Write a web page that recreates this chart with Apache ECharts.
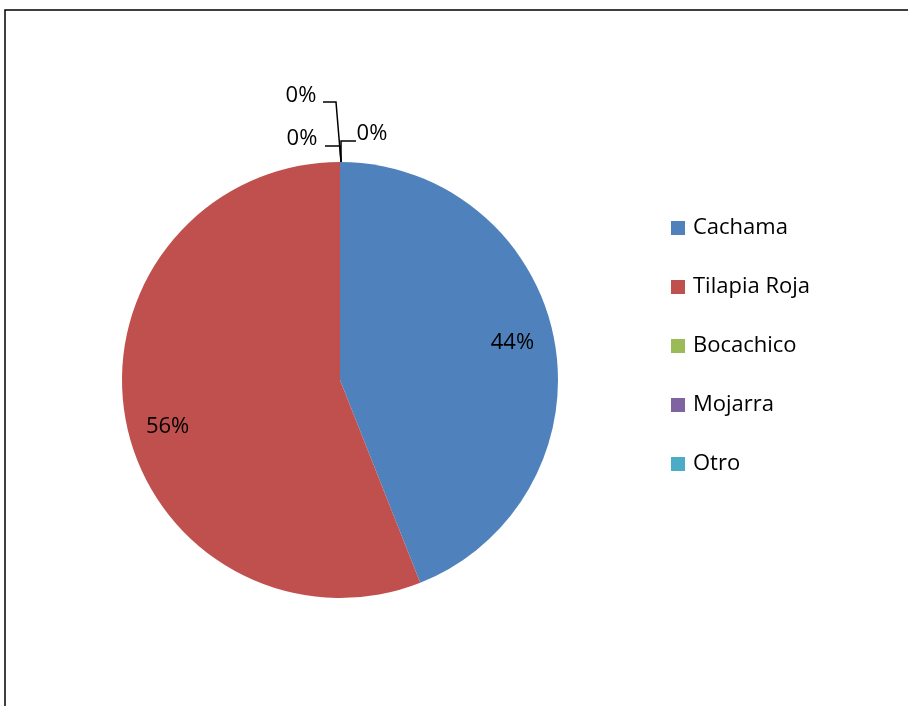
<!DOCTYPE html>
<html>
<head>
<meta charset="utf-8">
<script src="https://cdn.jsdelivr.net/npm/echarts@6/dist/echarts.min.js"></script>
<style>
  html, body { margin: 0; padding: 0; background: #fff; }
  #chart { width: 908px; height: 706px; }
</style>
</head>
<body>
<div id="chart"></div>
<script>
// Species share (percent)
const categories = ['Cachama', 'Tilapia Roja', 'Bocachico', 'Mojarra', 'Otro'];
const values = [44, 56, 0, 0, 0];
const colors = ['#4F81BD', '#C0504D', '#9BBB59', '#8064A2', '#4BACC6'];

const FONT = '"Open Sans", "Noto Sans", sans-serif';
const CX = 340, CY = 380, R = 218;

// Small offsets for the in-slice percentage labels
const insideNudge = [[-1, -4], [1, 14]];

// Callout placements for empty slices, relative to the top of the pie
const zeroCallouts = [
  { text: [-39, -66], line: [[-17, -60], [-4, -60], [1, 0]] },
  { text: [-38, -23], line: [[-15, -16], [0, -16], [1, 0]] },
  { text: [32, -28], line: [[16, -21], [1, -21], [1, 0]] }
];

const total = values.reduce((a, b) => a + b, 0);

const chart = echarts.init(document.getElementById('chart'), null, { renderer: 'canvas' });

const pieData = categories.map((name, i) => {
  const item = { name, value: values[i], itemStyle: { color: colors[i] } };
  if (values[i] === 0) {
    item.label = { position: 'outside' };
    item.labelLine = { show: true };
  }
  return item;
});

function placeLabel(params) {
  const i = params.dataIndex;
  if (values[i] > 0) {
    let before = 0;
    let nz = 0;
    for (let k = 0; k < i; k++) { before += values[k]; if (values[k] > 0) nz++; }
    const mid = (before + values[i] / 2) / total * Math.PI * 2;
    const k = 0.81;
    const n = insideNudge[nz] || [0, 0];
    return {
      x: CX + k * R * Math.sin(mid) + n[0],
      y: CY - k * R * Math.cos(mid) + n[1],
      align: 'center',
      verticalAlign: 'middle'
    };
  }
  let zi = 0;
  for (let k = 0; k < i; k++) if (values[k] === 0) zi++;
  const c = zeroCallouts[zi];
  const topX = CX, topY = CY - R;
  return {
    x: topX + c.text[0],
    y: topY + c.text[1],
    align: 'center',
    verticalAlign: 'middle',
    labelLinePoints: c.line.map(p => [topX + p[0], topY + p[1]])
  };
}

chart.setOption({
  animation: false,
  backgroundColor: '#ffffff',
  graphic: [{
    type: 'rect',
    shape: { x: 5, y: 10, width: 1000, height: 1000 },
    style: { fill: 'none', stroke: '#000', lineWidth: 1.5 },
    silent: true,
    z: 10
  }],
  legend: {
    orient: 'vertical',
    left: 671,
    top: 217,
    padding: 0,
    itemWidth: 14,
    itemHeight: 14,
    itemGap: 37,
    icon: 'rect',
    data: categories,
    textStyle: {
      fontFamily: FONT,
      fontSize: 22,
      color: '#000',
      lineHeight: 22,
      padding: [0, 0, 0, 3]
    }
  },
  series: [{
    type: 'pie',
    center: [CX, CY],
    radius: R,
    startAngle: 90,
    clockwise: true,
    percentPrecision: 0,
    avoidLabelOverlap: false,
    minShowLabelAngle: 0,
    label: {
      show: true,
      position: 'inside',
      formatter: '{d}%',
      fontFamily: FONT,
      fontSize: 22,
      color: '#000'
    },
    labelLine: {
      show: false,
      lineStyle: { color: '#000', width: 1.5 }
    },
    labelLayout: placeLabel,
    emphasis: { disabled: true },
    itemStyle: { borderWidth: 0 },
    data: pieData
  }]
});
</script>
</body>
</html>
